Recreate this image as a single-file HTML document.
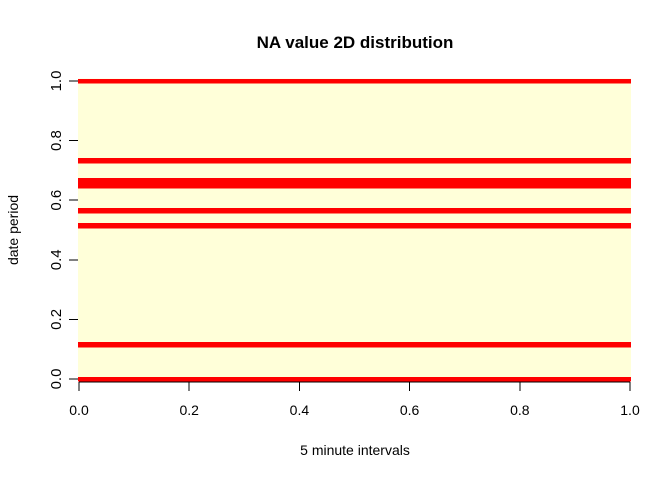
<!DOCTYPE html>
<html><head><meta charset="utf-8"><style>
body{margin:0;background:#fff}
text{font-family:"Liberation Sans",sans-serif;fill:#000}
</style></head><body>
<svg id="c" width="672" height="480" xmlns="http://www.w3.org/2000/svg">
<text x="355" y="48" text-anchor="middle" font-size="17" font-weight="bold">NA value 2D distribution</text>
<text x="355" y="455" text-anchor="middle" font-size="14">5 minute intervals</text>
<text transform="translate(18,230) rotate(-90)" text-anchor="middle" font-size="14">date period</text>
<g id="plot" shape-rendering="crispEdges"></g>
</svg>
<script>
const naDays=[1,8,32,35,40,41,45,61];
const nDays=61;
const xTicks=[0,0.2,0.4,0.6,0.8,1.0];
const yTicks=[0,0.2,0.4,0.6,0.8,1.0];
const tickLabels=["0.0","0.2","0.4","0.6","0.8","1.0"];
const NS="http://www.w3.org/2000/svg";
const g=document.getElementById('plot');
const X=v=>79+v*551, Y=v=>379-v*298;
function mk(t,a){const e=document.createElementNS(NS,t);for(const k in a)e.setAttribute(k,a[k]);g.appendChild(e);return e;}
const half=(1/(nDays-1))/2;
const bg=mk('rect',{x:78,y:Y(1+half),width:553,height:Y(-half)-Y(1+half),fill:'#FFFFD9'});


naDays.forEach(d=>{const v=(d-1)/(nDays-1);
const y0=Math.round(Y(v+half)), y1=Math.round(Y(v-half));
const r=mk('rect',{x:78,y:y0,width:553,height:y1-y0+0.5,fill:'#FF0000'});

});
const xl=mk('line',{x1:X(0),x2:X(1),y1:382,y2:382,stroke:'#000'});


xTicks.forEach((v,i)=>{
const t=mk('line',{x1:X(v),x2:X(v),y1:382,y2:391,stroke:'#000'});


const l=mk('text',{x:X(v),y:415,'text-anchor':'middle','font-size':14});l.textContent=tickLabels[i];

});
yTicks.forEach((v,i)=>{
const t=mk('line',{x1:69,x2:78,y1:Y(v),y2:Y(v),stroke:'#000'});


const l=mk('text',{transform:`translate(61,${Y(v)}) rotate(-90)`,'text-anchor':'middle','font-size':15});l.textContent=tickLabels[i];

});
</script>
</body></html>
